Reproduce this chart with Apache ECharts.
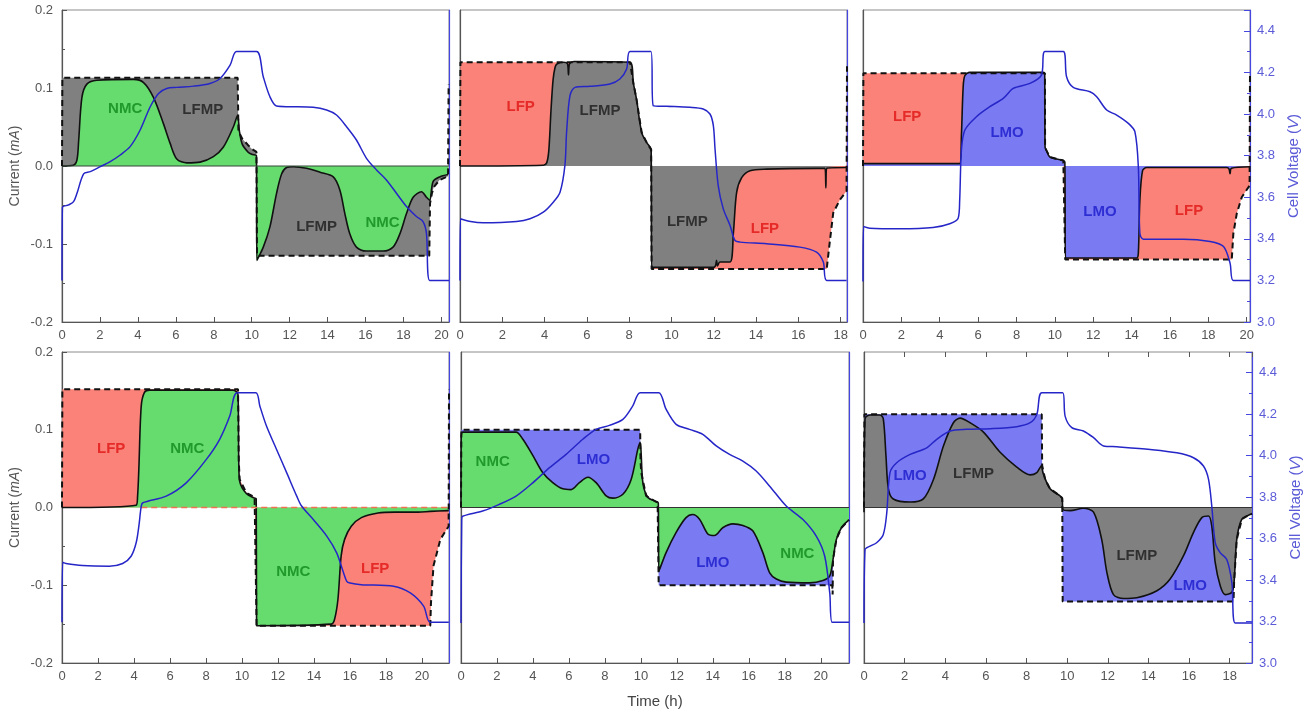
<!DOCTYPE html>
<html>
<head>
<meta charset="utf-8">
<script src="https://cdn.jsdelivr.net/npm/echarts@6/dist/echarts.min.js"></script>
<style>
html, body { margin: 0; padding: 0; background: #fff; }
#chart { width: 1308px; height: 712px; }
</style>
</head>
<body>
<div id="chart"></div>
<script>
// ---- Data: time (h), current (mA), cell voltage (V) ----

// Panel 1: NMC + LFMP
const p1Total = [[0,0],[0.02,0.113],[9.26,0.113],[9.3,0.045],[9.5,0.035],[9.8,0.027],[10.0,0.022],[10.25,0.018],[10.28,-0.115],[19.36,-0.115],[19.4,-0.048],[19.5,-0.035],[19.6,-0.027],[19.9,-0.018],[20.35,-0.013],[20.38,0.105]];
const p1Nmc = [[0,0],[0.6,0.001],[0.79,0.008],[0.88,0.033],[1.05,0.088],[1.31,0.105],[1.84,0.110],[3.77,0.111],[4.3,0.107],[4.82,0.088],[5.35,0.054],[5.7,0.029],[6.05,0.009],[6.58,0.004],[7.28,0.005],[7.98,0.012],[8.5,0.024],[9.03,0.050],[9.26,0.065],[9.35,0.045],[9.5,0.028],[9.8,0.018],[10.0,0.015],[10.25,0.013],[10.27,-0.121],[10.61,-0.104],[10.96,-0.078],[11.31,-0.035],[11.58,-0.010],[11.84,-0.002],[12.19,-0.001],[12.89,-0.003],[13.6,-0.008],[14.3,-0.014],[14.65,-0.031],[14.91,-0.061],[15.17,-0.087],[15.52,-0.104],[16.05,-0.109],[16.93,-0.109],[17.45,-0.104],[17.81,-0.087],[18.16,-0.061],[18.51,-0.040],[18.95,-0.033],[19.21,-0.040],[19.38,-0.044],[19.56,-0.020],[19.91,-0.014],[20.35,-0.011]];
const p1Volt = [[0,3.2],[0.02,3.55],[0.35,3.563],[0.61,3.579],[0.79,3.619],[1.14,3.712],[1.49,3.723],[2.02,3.747],[2.54,3.771],[3.07,3.803],[3.59,3.843],[4.12,3.923],[4.65,4.035],[5.09,4.099],[5.52,4.123],[6.05,4.128],[6.93,4.134],[7.8,4.147],[8.33,4.171],[8.86,4.235],[9.2,4.3],[10.26,4.3],[10.61,4.179],[10.96,4.083],[11.31,4.038],[12.0,4.035],[13.24,4.032],[13.95,4.019],[14.47,3.995],[15.0,3.939],[15.52,3.875],[16.05,3.787],[16.58,3.731],[17.1,3.683],[17.63,3.619],[18.16,3.555],[18.68,3.507],[19.03,3.483],[19.21,3.427],[19.38,3.2],[20.4,3.2]];
const p1Labels = [['NMC',3.33,0.073],['LFMP',7.42,0.072],['LFMP',13.42,-0.078],['NMC',16.9,-0.073]];

// Panel 2: LFMP + LFP
const p2Total = [[0,0],[0.02,0.133],[8.04,0.133],[8.2,0.106],[8.35,0.085],[8.59,0.043],[8.83,0.030],[9.04,0.021],[9.06,-0.132],[17.34,-0.132],[17.5,-0.094],[17.65,-0.06],[17.97,-0.043],[18.28,-0.032],[18.3,0.128]];
const p2Lfmp = [[0,0],[3.94,0.001],[4.1,0.004],[4.2,0.02],[4.3,0.07],[4.4,0.11],[4.5,0.127],[4.6,0.131],[4.9,0.133],[5.08,0.131],[5.13,0.117],[5.18,0.131],[5.4,0.134],[8.04,0.133],[8.2,0.106],[8.35,0.085],[8.59,0.043],[8.83,0.030],[9.04,0.021],[9.06,-0.130],[11.98,-0.130],[12.08,-0.128],[12.13,-0.121],[12.18,-0.128],[12.29,-0.123],[12.77,-0.123],[12.93,-0.085],[13.08,-0.034],[13.32,-0.015],[13.71,-0.006],[14.5,-0.004],[16.86,-0.003],[17.26,-0.003],[17.3,-0.028],[17.34,-0.003],[18.28,-0.002]];
const p2Volt = [[0,3.2],[0.02,3.496],[0.5,3.483],[1.1,3.477],[2.68,3.483],[3.31,3.496],[3.94,3.528],[4.41,3.576],[4.73,3.624],[4.96,3.752],[5.04,3.912],[5.2,4.088],[5.44,4.128],[6.15,4.133],[7.09,4.144],[7.56,4.168],[7.88,4.216],[8.04,4.3],[9.03,4.3],[9.14,4.04],[9.77,4.037],[10.87,4.032],[11.5,4.024],[11.82,4.0],[11.98,3.944],[12.06,3.832],[12.21,3.656],[12.45,3.544],[12.77,3.464],[13.0,3.392],[13.24,3.384],[14.5,3.376],[16.07,3.36],[16.86,3.336],[17.18,3.288],[17.34,3.2],[18.28,3.2]];
const p2Labels = [['LFP',2.87,0.076],['LFMP',6.62,0.071],['LFMP',10.75,-0.072],['LFP',14.42,-0.081]];

// Panel 3: LMO + LFP
const p3Total = [[0,0],[0.02,0.119],[9.48,0.119],[9.49,0.024],[9.56,0.020],[9.74,0.0115],[10.44,0.007],[10.52,0.005],[10.54,-0.12],[19.22,-0.12],[19.3,-0.087],[19.48,-0.061],[19.74,-0.040],[20.15,-0.025],[20.17,0.12]];
const p3Lmo = [[0,0.003],[5.04,0.003],[5.13,0.04],[5.22,0.101],[5.31,0.116],[5.57,0.12],[9.39,0.12],[9.47,0.118],[9.49,0.024],[9.56,0.020],[9.74,0.0115],[10.44,0.007],[10.52,0.005],[10.55,-0.118],[14.26,-0.118],[14.35,-0.112],[14.43,-0.044],[14.57,-0.006],[14.78,-0.002],[18.96,-0.002],[19.08,-0.004],[19.13,-0.010],[19.2,-0.003],[20.17,-0.001]];
const p3Volt = [[0,3.195],[0.03,3.459],[0.35,3.451],[1.92,3.448],[3.65,3.454],[4.52,3.472],[4.96,3.499],[5.04,3.587],[5.13,3.827],[5.31,3.923],[5.91,3.987],[6.61,4.035],[7.31,4.075],[7.83,4.123],[8.7,4.147],[9.3,4.187],[9.48,4.3],[10.44,4.3],[10.61,4.179],[10.96,4.128],[11.83,4.107],[12.18,4.083],[12.7,4.019],[13.22,3.995],[13.83,3.955],[14.17,3.915],[14.35,3.747],[14.43,3.427],[14.61,3.398],[16.7,3.398],[18.09,3.387],[18.79,3.363],[19.13,3.283],[19.3,3.2],[20.17,3.2]];
const p3Labels = [['LFP',2.3,0.063],['LMO',7.51,0.043],['LMO',12.35,-0.059],['LFP',16.99,-0.058]];

// Panel 4: NMC + LFP
const p4Total = [[0,0],[0.02,0.152],[9.78,0.152],[9.82,0.06],[9.87,0.036],[10.24,0.019],[10.7,0.013],[10.79,0.012],[10.81,-0.152],[20.46,-0.152],[20.5,-0.122],[20.64,-0.075],[21.02,-0.041],[21.48,-0.024],[21.5,0.152]];
const p4Nmc = [[0,0],[4.12,0.003],[4.2,0.015],[4.27,0.05],[4.4,0.13],[4.58,0.148],[4.86,0.151],[9.5,0.151],[9.78,0.145],[9.82,0.06],[9.87,0.034],[10.24,0.018],[10.7,0.012],[10.79,0.011],[10.81,-0.152],[14.96,-0.150],[15.14,-0.144],[15.33,-0.118],[15.51,-0.062],[15.7,-0.041],[16.07,-0.024],[16.63,-0.013],[17.56,-0.007],[18.49,-0.006],[19.79,-0.006],[20.46,-0.005],[21.49,-0.004]];
const p4Volt = [[0,3.196],[0.04,3.486],[0.22,3.48],[1.14,3.47],[2.63,3.467],[3.37,3.48],[3.84,3.515],[4.12,3.58],[4.27,3.66],[4.4,3.755],[4.49,3.773],[5.79,3.805],[6.9,3.869],[8.02,3.982],[8.76,4.079],[9.32,4.191],[9.73,4.304],[10.77,4.304],[10.99,4.24],[11.36,4.143],[11.92,4.03],[12.48,3.918],[13.04,3.805],[13.31,3.757],[13.96,3.692],[14.71,3.612],[15.26,3.531],[15.64,3.435],[15.82,3.394],[16.0,3.386],[16.63,3.378],[18.42,3.37],[19.35,3.338],[20.09,3.274],[20.46,3.196],[21.49,3.196]];
const p4Labels = [['LFP',2.73,0.076],['NMC',6.96,0.076],['NMC',12.85,-0.083],['LFP',17.4,-0.079]];
const p4ZeroLine = [[4.4,0],[21.5,0]];

// Panel 5: NMC + LMO
const p5Total = [[0,0],[0.02,0.1],[9.96,0.1],[9.98,0.06],[10.02,0.045],[10.29,0.015],[10.93,0.006],[10.97,0.005],[10.99,-0.1],[20.64,-0.1],[20.66,-0.112],[20.68,-0.067],[20.87,-0.041],[21.15,-0.026],[21.57,-0.016]];
const p5Nmc = [[0,0],[0.01,0.09],[0.1,0.097],[3.06,0.097],[3.43,0.088],[3.99,0.067],[4.54,0.045],[5.1,0.032],[5.66,0.024],[6.12,0.023],[6.58,0.032],[7.05,0.039],[7.51,0.032],[8.07,0.015],[8.44,0.012],[9.0,0.017],[9.46,0.036],[9.83,0.075],[9.96,0.084],[10.11,0.032],[10.39,0.013],[10.93,0.007],[10.97,0.005],[11.0,-0.082],[11.4,-0.058],[11.96,-0.032],[12.51,-0.013],[12.88,-0.009],[13.26,-0.015],[13.72,-0.034],[14.09,-0.036],[14.55,-0.026],[15.11,-0.021],[15.67,-0.023],[16.22,-0.030],[16.78,-0.058],[17.16,-0.084],[17.53,-0.092],[18.08,-0.096],[19.38,-0.097],[20.12,-0.094],[20.5,-0.088],[20.68,-0.067],[20.87,-0.041],[21.15,-0.026],[21.57,-0.016]];
const p5Volt = [[0,3.193],[0.04,3.692],[0.09,3.708],[1.2,3.733],[2.13,3.765],[3.06,3.805],[3.99,3.869],[4.92,3.942],[5.84,4.006],[6.77,4.079],[7.51,4.127],[8.25,4.146],[9.0,4.175],[9.55,4.24],[9.96,4.304],[10.99,4.304],[11.4,4.224],[11.96,4.151],[12.7,4.127],[13.44,4.103],[14.19,4.047],[14.93,4.006],[15.67,3.974],[16.41,3.926],[17.16,3.853],[18.08,3.757],[19.01,3.692],[19.75,3.612],[20.22,3.515],[20.5,3.338],[20.64,3.196],[21.57,3.196]];
const p5Labels = [['NMC',1.76,0.059],['LMO',7.36,0.061],['LMO',14.0,-0.071],['NMC',18.7,-0.06]];

// Panel 6: LFMP + LMO
const p6Total = [[0,0],[0.02,0.12],[8.75,0.12],[8.77,0.054],[8.92,0.036],[9.16,0.024],[9.65,0.015],[9.76,0.012],[9.78,-0.121],[18.19,-0.121],[18.22,-0.095],[18.35,-0.041],[18.6,-0.015],[19.0,-0.009],[19.1,-0.008]];
const p6Lfmp = [[0,-0.006],[0.05,0.114],[0.3,0.119],[0.79,0.119],[0.95,0.114],[1.08,0.067],[1.2,0.024],[1.44,0.011],[2.27,0.007],[2.92,0.011],[3.42,0.036],[3.91,0.079],[4.4,0.109],[4.73,0.115],[5.22,0.109],[5.88,0.097],[6.7,0.071],[7.52,0.052],[8.18,0.042],[8.51,0.045],[8.75,0.054],[8.77,0.050],[8.83,0.043],[9.16,0.024],[9.65,0.015],[9.76,0.011],[9.78,-0.002],[10.15,-0.004],[10.8,-0.001],[11.3,-0.006],[11.7,-0.041],[11.96,-0.084],[12.28,-0.112],[12.78,-0.117],[13.43,-0.116],[14.42,-0.107],[15.07,-0.092],[15.73,-0.062],[16.22,-0.032],[16.63,-0.013],[16.96,-0.011],[17.12,-0.024],[17.29,-0.071],[17.54,-0.101],[17.78,-0.112],[18.11,-0.109],[18.22,-0.095],[18.35,-0.041],[18.6,-0.015],[19.0,-0.009],[19.1,-0.008]];
const p6Volt = [[0,3.193],[0.05,3.547],[0.3,3.564],[0.62,3.58],[0.95,3.62],[1.12,3.724],[1.28,3.918],[1.61,3.966],[2.27,4.006],[3.09,4.038],[3.58,4.079],[4.24,4.119],[5.06,4.127],[6.21,4.13],[7.52,4.14],[8.18,4.159],[8.51,4.2],[8.75,4.304],[9.78,4.304],[9.9,4.191],[10.23,4.135],[10.8,4.119],[11.3,4.087],[11.79,4.047],[12.45,4.043],[14.09,4.03],[15.4,4.014],[16.22,3.99],[16.71,3.95],[16.96,3.886],[17.12,3.757],[17.29,3.58],[17.54,3.531],[17.86,3.499],[18.11,3.386],[18.27,3.193],[19.1,3.193]];
const p6Labels = [['LMO',2.27,0.041],['LFMP',5.39,0.043],['LFMP',13.43,-0.062],['LMO',16.06,-0.101]];

// Axis ranges and tick values
const currentTicks = { min: -0.2, max: 0.2, step: 0.1 };
const voltageTicks = { min: 3.0, max: 4.5, step: 0.2 };
const timeStep = 2;

// ---- Styling ----
const FONT = 'Liberation Sans, Arial, sans-serif';
const FILL = { NMC: '#66dc6e', LFMP: '#808080', LFP: '#fa8278', LMO: '#7a7af2' };
const INK = { NMC: '#0f8a1a', LFMP: '#1b1b1b', LFP: '#e01414', LMO: '#1a1acc' };
const VOLT_LINE = '#2626c8';
const VOLT_AXIS = '#4646e0';
const VOLT_TEXT = '#5b5bd8';
const GREY = '#555';

// Each panel: plot box, time span, the bottom-stacked electrode (comp) and the other one (rest)
const panels = [
  { box: [62, 10, 387, 312], xMax: 20.4, total: p1Total, comp: p1Nmc, compName: 'NMC', restName: 'LFMP', volt: p1Volt, labels: p1Labels, zero: '#34483a' },
  { box: [460, 10, 387, 312], xMax: 18.3, total: p2Total, comp: p2Lfmp, compName: 'LFMP', restName: 'LFP', volt: p2Volt, labels: p2Labels, zero: null },
  { box: [863, 10, 387, 312], xMax: 20.17, total: p3Total, comp: p3Lmo, compName: 'LMO', restName: 'LFP', volt: p3Volt, labels: p3Labels, zero: null },
  { box: [62, 352, 387, 311], xMax: 21.5, total: p4Total, comp: p4Nmc, compName: 'NMC', restName: 'LFP', volt: p4Volt, labels: p4Labels, zero: null, zeroDashed: p4ZeroLine },
  { box: [461, 352, 388, 311], xMax: 21.57, total: p5Total, comp: p5Nmc, compName: 'NMC', restName: 'LMO', volt: p5Volt, labels: p5Labels, zero: '#333' },
  { box: [864, 352, 388, 311], xMax: 19.1, total: p6Total, comp: p6Lfmp, compName: 'LFMP', restName: 'LMO', volt: p6Volt, labels: p6Labels, zero: '#333', topTicks: true }
];

const grids = [], xAxes = [], yAxes = [], series = [];

panels.forEach((p, i) => {
  const col = i % 3;
  grids.push({
    left: p.box[0], top: p.box[1], width: p.box[2], height: p.box[3],
    show: true, borderColor: '#8c8c8c', borderWidth: 1, backgroundColor: 'transparent'
  });

  xAxes.push({
    gridIndex: i, type: 'value', position: 'bottom', min: 0, max: p.xMax, interval: timeStep,
    axisLine: { show: true, onZero: false, lineStyle: { color: GREY, width: 1.2 } },
    axisTick: { show: true, inside: true, length: 5, lineStyle: { color: GREY } },
    axisLabel: { color: GREY, fontSize: 13, margin: 7, fontFamily: FONT, showMaxLabel: false, showMinLabel: true },
    splitLine: { show: false },
    name: i === 4 ? 'Time (h)' : '',
    nameLocation: 'middle', nameGap: 31,
    nameTextStyle: { color: '#444', fontSize: 15, fontFamily: FONT }
  });

  // current axis (left)
  yAxes.push({
    gridIndex: i, type: 'value', position: 'left',
    min: currentTicks.min, max: currentTicks.max, interval: currentTicks.step,
    axisLine: { show: true, onZero: false, lineStyle: { color: GREY, width: 1.2 } },
    axisTick: { show: col === 0, inside: true, length: 5, lineStyle: { color: GREY } },
    minorTick: { show: col === 0, splitNumber: 2, length: 3, lineStyle: { color: GREY } },
    axisLabel: { show: col === 0, color: GREY, fontSize: 13, margin: 9, fontFamily: FONT,
      formatter: v => v.toFixed(1) },
    splitLine: { show: false },
    name: col === 0 ? 'Current ({it|mA})' : '',
    nameLocation: 'middle', nameGap: 40,
    nameTextStyle: { color: GREY, fontSize: 14, fontFamily: FONT,
      rich: { it: { fontStyle: 'italic', color: GREY, fontSize: 14, fontFamily: FONT } } }
  });

  // cell voltage axis (right)
  yAxes.push({
    gridIndex: i, type: 'value', position: 'right',
    min: voltageTicks.min, max: voltageTicks.max, interval: voltageTicks.step,
    axisLine: { show: true, onZero: false, lineStyle: { color: VOLT_AXIS, width: 1.2 } },
    axisTick: { show: col === 2, inside: true, length: 6, lineStyle: { color: VOLT_AXIS } },
    minorTick: { show: col === 2, splitNumber: 2, length: 3, lineStyle: { color: VOLT_AXIS } },
    axisLabel: { show: col === 2, color: VOLT_TEXT, fontSize: 13, margin: 7, fontFamily: FONT,
      showMaxLabel: false, formatter: v => v.toFixed(1) },
    splitLine: { show: false },
    name: col === 2 ? 'Cell Voltage ({it|V})' : '',
    nameLocation: 'middle', nameGap: 36,
    nameTextStyle: { color: VOLT_TEXT, fontSize: 15, fontFamily: FONT,
      rich: { it: { fontStyle: 'italic', color: VOLT_TEXT, fontSize: 15, fontFamily: FONT } } }
  });

  const yc = 2 * i, yv = 2 * i + 1;

  // total current filled with the second electrode's colour
  series.push({
    type: 'line', xAxisIndex: i, yAxisIndex: yc, data: p.total,
    showSymbol: false, silent: true, z: 1,
    lineStyle: { width: 0 },
    areaStyle: { color: FILL[p.restName], opacity: 1 }
  });
  // first electrode's share, drawn from zero with its solid black outline
  series.push({
    type: 'line', xAxisIndex: i, yAxisIndex: yc, data: p.comp,
    showSymbol: false, silent: true, z: 2, smooth: 0.3,
    lineStyle: { color: '#111', width: 1.6 },
    areaStyle: { color: FILL[p.compName], opacity: 1 }
  });
  // zero-current line
  if (p.zero) {
    series.push({
      type: 'line', xAxisIndex: i, yAxisIndex: yc, data: [[0, 0], [p.xMax, 0]],
      showSymbol: false, silent: true, z: 3,
      lineStyle: { color: p.zero, width: 1 }
    });
  }
  if (p.zeroDashed) {
    series.push({
      type: 'line', xAxisIndex: i, yAxisIndex: yc, data: p.zeroDashed,
      showSymbol: false, silent: true, z: 3,
      lineStyle: { color: '#f07050', width: 1.4, type: [6, 4] }
    });
  }
  // applied total current, dashed
  series.push({
    type: 'line', xAxisIndex: i, yAxisIndex: yc, data: p.total,
    showSymbol: false, silent: true, z: 4,
    lineStyle: { color: '#111', width: 2, type: [6, 4] }
  });
  // cell voltage
  series.push({
    type: 'line', xAxisIndex: i, yAxisIndex: yv, data: p.volt,
    showSymbol: false, silent: true, z: 5, smooth: 0.3,
    lineStyle: { color: VOLT_LINE, width: 1.5 }
  });
  // electrode names
  series.push({
    type: 'scatter', xAxisIndex: i, yAxisIndex: yc, silent: true, z: 6,
    symbolSize: 1, itemStyle: { color: 'rgba(0,0,0,0)' },
    data: p.labels.map(l => ({ name: l[0], value: [l[1], l[2]], label: { color: INK[l[0]] } })),
    label: { show: true, position: 'inside', formatter: d => d.name,
      fontWeight: 'bold', fontSize: 15, fontFamily: FONT }
  });
});

// tick marks along the top edge of the last panel
panels.forEach((p, i) => {
  if (!p.topTicks) return;
  xAxes.push({
    gridIndex: i, type: 'value', position: 'top', min: 0, max: p.xMax, interval: timeStep,
    axisLine: { show: false, onZero: false }, axisLabel: { show: false }, splitLine: { show: false },
    axisTick: { show: true, inside: true, length: 5, lineStyle: { color: GREY } }
  });
});

const chart = echarts.init(document.getElementById('chart'), null, { renderer: 'canvas' });
chart.setOption({
  animation: false,
  backgroundColor: '#fff',
  textStyle: { fontFamily: FONT },
  grid: grids,
  xAxis: xAxes,
  yAxis: yAxes,
  series: series
});
</script>
</body>
</html>
